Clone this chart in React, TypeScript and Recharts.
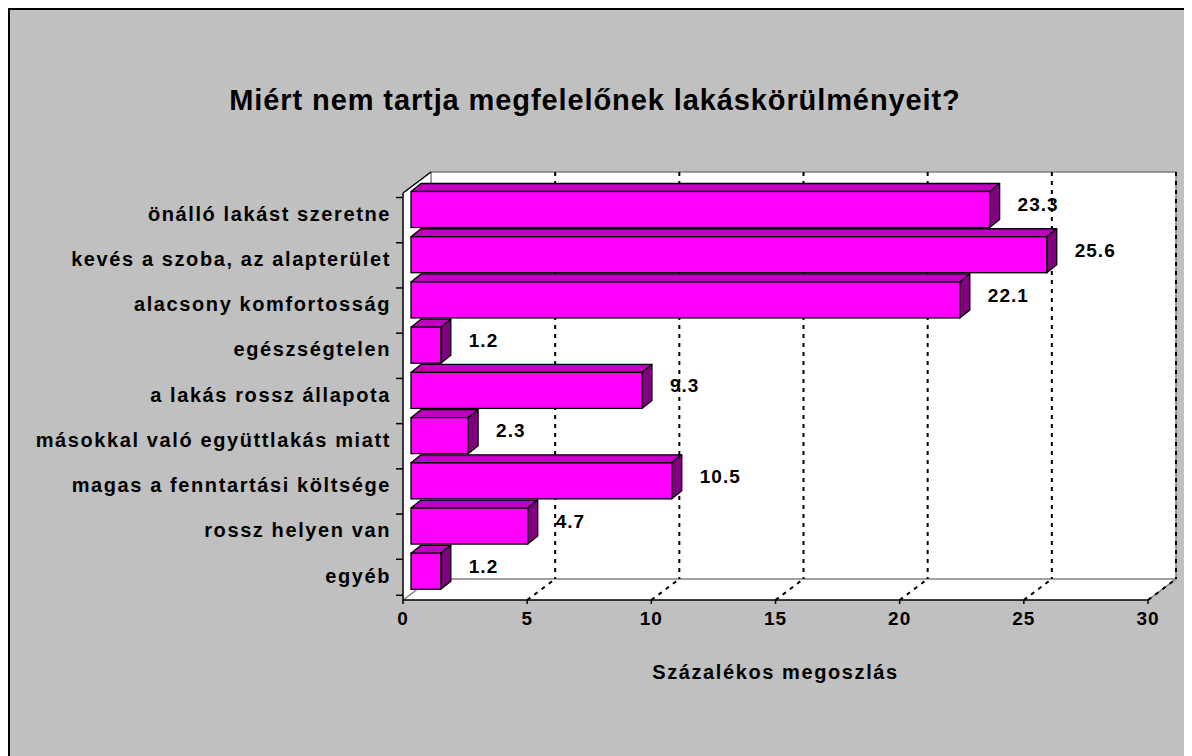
import React from 'react';
import { BarChart, Bar, XAxis, YAxis, CartesianGrid, LabelList } from 'recharts';

const categories = [
  'önálló lakást szeretne',
  'kevés a szoba, az alapterület',
  'alacsony komfortosság',
  'egészségtelen',
  'a lakás rossz állapota',
  'másokkal való együttlakás miatt',
  'magas a fenntartási költsége',
  'rossz helyen van',
  'egyéb',
];
const shares = [23.3, 25.6, 22.1, 1.2, 9.3, 2.3, 10.5, 4.7, 1.2];
const xTicks = [0, 5, 10, 15, 20, 25, 30];

const data = categories.map((name, i) => ({ name, value: shares[i] }));

// 3D look
const DX = 28;
const DY = 21;
const BAR_DX = 10;
const BAR_DY = 8;
const FACE_X = 8;
const FACE_Y = 6;
const FONT = '"Liberation Sans", Arial, sans-serif';

// back wall + dashed gridlines, drawn through the grid so they sit under the bars
const GridLine = (p: any) => {
  const { x1, y1, y2, index, x, y, width, height } = p;
  const top = Math.min(y1, y2);
  const bottom = Math.max(y1, y2);
  if (index === 0) {
    const L = x, R = x + width, T = y, B = y + height;
    return (
      <g key={`wall-${index}`}>
        <polygon
          points={`${L},${T} ${L + DX},${T - DY} ${R + DX},${T - DY} ${R + DX},${B - DY} ${R},${B} ${L},${B}`}
          fill="#fff"
        />
        <polyline
          points={`${L},${B} ${L + DX},${B - DY} ${L + DX},${T - DY} ${R + DX},${T - DY} ${R + DX},${B - DY} ${R},${B}`}
          fill="none"
          stroke="#808080"
          strokeWidth={1.5}
        />
        <line x1={L + DX} y1={B - DY} x2={R + DX} y2={B - DY} stroke="#808080" strokeWidth={1.5} />
        <line x1={L} y1={T} x2={L + DX} y2={T - DY} stroke="#000" strokeWidth={1.5} />
      </g>
    );
  }
  return (
    <g key={`grid-${index}`}>
      <line x1={x1 + DX} y1={top - DY} x2={x1 + DX} y2={bottom - DY} stroke="#000" strokeWidth={2} strokeDasharray="4 5" />
      <line x1={x1} y1={bottom} x2={x1 + DX} y2={bottom - DY} stroke="#000" strokeWidth={2} strokeDasharray="4 5" />
    </g>
  );
};

const Bar3D = (p: any) => {
  const { x, y, width, height, index } = p;
  const fx = x + FACE_X;
  const fy = y - FACE_Y;
  const w = width;
  const h = height;
  const bandTop = p.background ? p.background.y : y - h * 0.125;
  const bandBottom = p.background ? p.background.y + p.background.height : y + h * 1.125;
  return (
    <g>
      <line x1={x - 7} y1={bandTop} x2={x} y2={bandTop} stroke="#000" strokeWidth={1.5} />
      {index === data.length - 1 && (
        <line x1={x - 7} y1={bandBottom} x2={x} y2={bandBottom} stroke="#000" strokeWidth={1.5} />
      )}
      <polygon
        points={`${fx},${fy} ${fx + BAR_DX},${fy - BAR_DY} ${fx + w + BAR_DX},${fy - BAR_DY} ${fx + w},${fy}`}
        fill="#c000c0"
        stroke="#000"
        strokeWidth={1.3}
        strokeLinejoin="round"
      />
      <polygon
        points={`${fx + w},${fy} ${fx + w + BAR_DX},${fy - BAR_DY} ${fx + w + BAR_DX},${fy + h - BAR_DY} ${fx + w},${fy + h}`}
        fill="#800080"
        stroke="#000"
        strokeWidth={1.3}
        strokeLinejoin="round"
      />
      <rect x={fx} y={fy} width={w} height={h} fill="#ff00ff" stroke="#000" strokeWidth={1.3} />
    </g>
  );
};

const ValueLabel = (p: any) => {
  const vb = p.viewBox || p;
  const { x, y, width, height } = vb;
  return (
    <text
      x={x + width + FACE_X + 28}
      y={y - FACE_Y + height / 2 - 5}
      dy="0.36em"
      fontFamily={FONT}
      fontWeight="bold"
      fontSize={19}
      letterSpacing={1}
      fill="#000"
    >
      {Number(p.value).toFixed(1)}
    </text>
  );
};

const CategoryTick = (p: any) => (
  <text
    x={p.x + 3}
    y={p.y - 2}
    dy="0.36em"
    textAnchor="end"
    fontFamily={FONT}
    fontWeight="bold"
    fontSize={20}
    letterSpacing={1.6}
    fill="#000"
  >
    {p.payload.value}
  </text>
);

export default function App() {
  return (
    <div
      style={{
        position: 'relative',
        width: 1184,
        height: 748,
        background: '#c0c0c0',
        boxShadow: 'inset 2px 2px 0 #000',
        overflow: 'hidden',
      }}
    >
      <div
        style={{
          position: 'absolute',
          left: 0,
          top: 75,
          width: 1174,
          textAlign: 'center',
          fontFamily: FONT,
          fontWeight: 'bold',
          fontSize: 29,
          letterSpacing: 0.9,
          lineHeight: '34px',
          color: '#000',
        }}
      >
        Miért nem tartja megfelelőnek lakáskörülményeit?
      </div>
      <div style={{ position: 'absolute', left: 0, top: 0 }}>
        <BarChart
          width={1184}
          height={748}
          data={data}
          layout="vertical"
          margin={{ top: 185, right: 44, bottom: 126, left: 0 }}
          barCategoryGap="10%"
        >
          <CartesianGrid horizontal={false} vertical={GridLine} />
          <XAxis
            type="number"
            domain={[0, 30]}
            ticks={xTicks}
            interval={0}
            height={30}
            axisLine={{ stroke: '#000', strokeWidth: 1.5 }}
            tickLine={{ stroke: '#000', strokeWidth: 1.5 }}
            tickSize={4}
            tickMargin={8}
            tick={{ fill: '#000', fontFamily: FONT, fontWeight: 'bold', fontSize: 19, letterSpacing: 1 }}
            label={{
              value: 'Százalékos megoszlás',
              position: 'bottom',
              offset: 35,
              fill: '#000',
              fontFamily: FONT,
              fontWeight: 'bold',
              fontSize: 20,
              letterSpacing: 1.6,
            }}
          />
          <YAxis
            type="category"
            dataKey="name"
            width={395}
            axisLine={{ stroke: '#000', strokeWidth: 1.5 }}
            tickLine={false}
            tickSize={7}
            tickMargin={8}
            tick={CategoryTick}
            interval={0}
          />
          <Bar dataKey="value" shape={Bar3D} isAnimationActive={false}>
            <LabelList dataKey="value" content={ValueLabel} />
          </Bar>
        </BarChart>
      </div>
    </div>
  );
}
